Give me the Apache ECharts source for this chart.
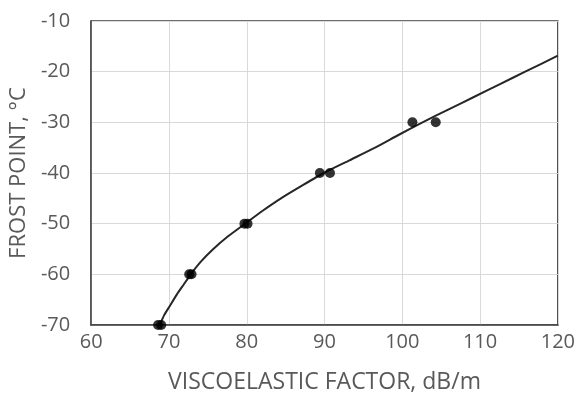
<!DOCTYPE html>
<html>
<head>
<meta charset="utf-8">
<script src="https://cdn.jsdelivr.net/npm/echarts@6/dist/echarts.min.js"></script>
<style>html,body{margin:0;padding:0;background:#fff;}#c{width:578px;height:401px;}</style>
</head>
<body>
<div id="c"></div>
<script>
// Measured points
const pointX = [68.6, 69.0, 72.6, 72.9, 79.7, 80.1, 89.4, 90.7, 101.3, 104.3];
const pointY = [-70, -70, -60, -60, -50, -50, -40, -40, -30, -30];
// Fitted curve
const curveX = [68.8, 69.4, 70.0, 71.0, 71.9, 72.8, 74.1, 75.7, 77.6, 79.8, 82.0, 84.4, 87.1, 89.9, 93.2, 96.5, 99.5, 102.6, 105.9, 109.2, 112.5, 115.8, 120.0];
const curveY = [-70, -68, -66.5, -64, -62, -60, -57.5, -55, -52.5, -50, -47.5, -45, -42.5, -40, -37.5, -35, -32.5, -30, -27.5, -25, -22.5, -20, -16.85];
const xTicks = [60, 70, 80, 90, 100, 110, 120];
const yTicks = [-70, -60, -50, -40, -30, -20, -10];

const FONT = 'Open Sans';
const TXT = '#595959';

const chart = echarts.init(document.getElementById('c'), null, {renderer: 'canvas'});
chart.setOption({
  animation: false,
  grid: {left: 89, top: 21, right: 19, bottom: 76, show: true, borderColor: '#404040', borderWidth: 1.5, backgroundColor: 'transparent'},
  xAxis: {
    type: 'value', min: xTicks[0], max: xTicks[xTicks.length - 1], interval: 10,
    name: 'VISCOELASTIC FACTOR, dB/m', nameLocation: 'middle', nameGap: 46,
    nameTextStyle: {color: TXT, fontFamily: FONT, fontSize: 23},
    axisLine: {show: true, lineStyle: {color: '#404040', width: 1.5}},
    axisTick: {show: false},
    axisLabel: {color: TXT, fontFamily: FONT, fontSize: 20, margin: 7},
    splitLine: {show: true, lineStyle: {color: '#d9d9d9', width: 1}}
  },
  yAxis: {
    type: 'value', min: yTicks[0], max: yTicks[yTicks.length - 1], interval: 10,
    name: 'FROST POINT, \u00B0C', nameLocation: 'middle', nameGap: 54,
    nameTextStyle: {color: TXT, fontFamily: FONT, fontSize: 22},
    axisLine: {show: true, lineStyle: {color: '#404040', width: 1.5}},
    axisTick: {show: false},
    axisLabel: {color: TXT, fontFamily: FONT, fontSize: 20, margin: 21},
    splitLine: {show: true, lineStyle: {color: '#d9d9d9', width: 1}}
  },
  series: [
    {
      type: 'line', data: curveX.map((x, i) => [x, curveY[i]]),
      smooth: 0.2, showSymbol: false, symbol: 'none',
      lineStyle: {color: '#262626', width: 2}, z: 2
    },
    {
      type: 'scatter', data: pointX.map((x, i) => [x, pointY[i]]),
      symbol: 'circle', symbolSize: 10, itemStyle: {color: '#000'}, z: 3
    }
  ]
});
</script>
</body>
</html>
